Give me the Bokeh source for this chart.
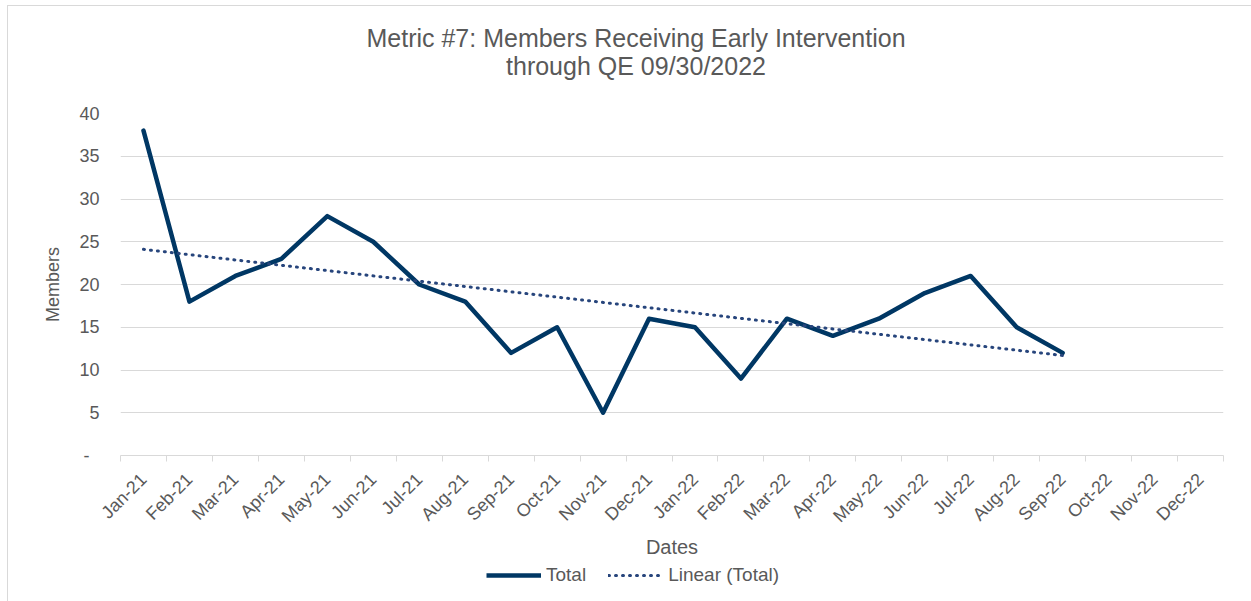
import math
import numpy as np
from bokeh.plotting import figure
from bokeh.layouts import column
from bokeh.models import FixedTicker, Label, Legend, LegendItem
from bokeh.embed import file_html
from bokeh.resources import INLINE

# ---------------- data ----------------
months = ["Jan-21", "Feb-21", "Mar-21", "Apr-21", "May-21", "Jun-21",
          "Jul-21", "Aug-21", "Sep-21", "Oct-21", "Nov-21", "Dec-21",
          "Jan-22", "Feb-22", "Mar-22", "Apr-22", "May-22", "Jun-22",
          "Jul-22", "Aug-22", "Sep-22", "Oct-22", "Nov-22", "Dec-22"]
totals = [38, 18, 21, 23, 28, 25, 20, 18, 12, 15, 5, 16,
          15, 9, 16, 14, 16, 19, 21, 15, 12]
y_ticks = [0, 5, 10, 15, 20, 25, 30, 35, 40]
title_line1 = "Metric #7: Members Receiving Early Intervention"
title_line2 = "through QE 09/30/2022"
series_names = ["Total", "Linear (Total)"]

# ---------------- derived ----------------
xs = list(range(len(totals)))
slope, intercept = np.polyfit(xs, totals, 1)
trend = [slope * xi + intercept for xi in xs]

FONT = "Liberation Sans"
TXT = "#595959"
GRID = "#d9d9d9"
C_TOTAL = "#003764"
C_TREND = "#27457C"
W = 1251
H_TOP, H_CHART = 90, 471
H_LEG = 601 - H_TOP - H_CHART
FRAME_LEFT = 120   # frames of the stacked figures are aligned


def bare(height):
    f = figure(width=W, height=height, output_backend="svg", toolbar_location=None,
               x_range=(0, 1), y_range=(0, 1), x_axis_type=None, y_axis_type=None,
               min_border=0)
    f.outline_line_color = None
    f.xgrid.visible = False
    f.ygrid.visible = False
    f.border_fill_color = None
    f.background_fill_color = None
    return f


# ---------- title strip ----------
p_top = bare(H_TOP)
for txt, y_page in zip([title_line1, title_line2], [37, 65]):
    p_top.add_layout(Label(x=635.5 - FRAME_LEFT, y=H_TOP - y_page,
                           x_units="screen", y_units="screen",
                           text=txt, text_align="center", text_baseline="middle",
                           text_font=FONT, text_font_size="25px", text_color=TXT))

# ---------- chart ----------
p = figure(width=W, height=H_CHART, output_backend="svg", toolbar_location=None,
           x_range=(-0.5, len(months) - 0.5), y_range=(0, 40),
           min_border_left=FRAME_LEFT, min_border_right=28,
           min_border_top=113 - H_TOP, min_border_bottom=H_TOP + H_CHART - 457)
p.outline_line_color = None
p.border_fill_color = None
p.background_fill_color = None

p.line(xs, totals, line_color=C_TOTAL, line_width=4.5,
       line_join="round", line_cap="round")
p.line(xs, trend, line_color=C_TREND, line_width=3,
       line_dash="1 6", line_cap="round")

xa = p.xaxis[0]
xa.ticker = FixedTicker(ticks=list(range(len(months))),
                        minor_ticks=[i - 0.5 for i in range(len(months) + 1)])
xa.major_label_overrides = {i: m for i, m in enumerate(months)}
xa.axis_line_color = GRID
xa.major_tick_line_color = None
xa.major_tick_in = 0
xa.major_tick_out = 0
xa.minor_tick_line_color = GRID
xa.minor_tick_in = 0
xa.minor_tick_out = 6
xa.major_label_orientation = math.pi / 4
xa.major_label_standoff = 15
xa.major_label_text_font = FONT
xa.major_label_text_font_size = "18px"
xa.major_label_text_color = TXT
xa.axis_label = "Dates"
xa.axis_label_text_font = FONT
xa.axis_label_text_font_size = "20px"
xa.axis_label_text_font_style = "normal"
xa.axis_label_text_color = TXT
xa.axis_label_text_line_height = 0.45
xa.axis_label_standoff = 0

ya = p.yaxis[0]
ya.ticker = FixedTicker(ticks=y_ticks)
ya.major_label_overrides = {0: "-\u00a0\u00a0"}
ya.axis_line_color = None
ya.major_tick_line_color = None
ya.minor_tick_line_color = None
ya.major_tick_in = 0
ya.major_tick_out = 0
ya.major_label_standoff = 21
ya.major_label_text_font = FONT
ya.major_label_text_font_size = "18px"
ya.major_label_text_color = TXT
ya.axis_label = "Members"
ya.axis_label_text_font = FONT
ya.axis_label_text_font_size = "18px"
ya.axis_label_text_font_style = "normal"
ya.axis_label_text_color = TXT
ya.axis_label_standoff = 13

p.xgrid.grid_line_color = None
p.ygrid.grid_line_color = GRID
p.ygrid.grid_line_width = 1

# ---------- legend strip (its series lie outside its 0..1 view) ----------
p_leg = bare(H_LEG)
k_total = p_leg.line(xs, totals, line_color=C_TOTAL, line_width=4.5, line_cap="butt")
k_trend = p_leg.line(xs, trend, line_color=C_TREND, line_width=3,
                     line_dash="1 6", line_cap="round")
legend = Legend(items=[LegendItem(label=series_names[0], renderers=[k_total]),
                       LegendItem(label=series_names[1], renderers=[k_trend])],
                location=(486 - FRAME_LEFT, 601 - 586), orientation="horizontal",
                glyph_width=55, glyph_height=20, label_standoff=5, spacing=22,
                padding=0, margin=0, border_line_color=None,
                background_fill_alpha=0, label_text_font=FONT,
                label_text_font_size="19px", label_text_color=TXT,
                label_height=20)
p_leg.add_layout(legend)

layout = column(p_top, p, p_leg, spacing=0,
                styles={"box-shadow": "inset 7px 5px 0 0 #ffffff, inset 8px 6px 0 0 #d9d9d9"})

open("out.html", "w").write(file_html(layout, INLINE))
